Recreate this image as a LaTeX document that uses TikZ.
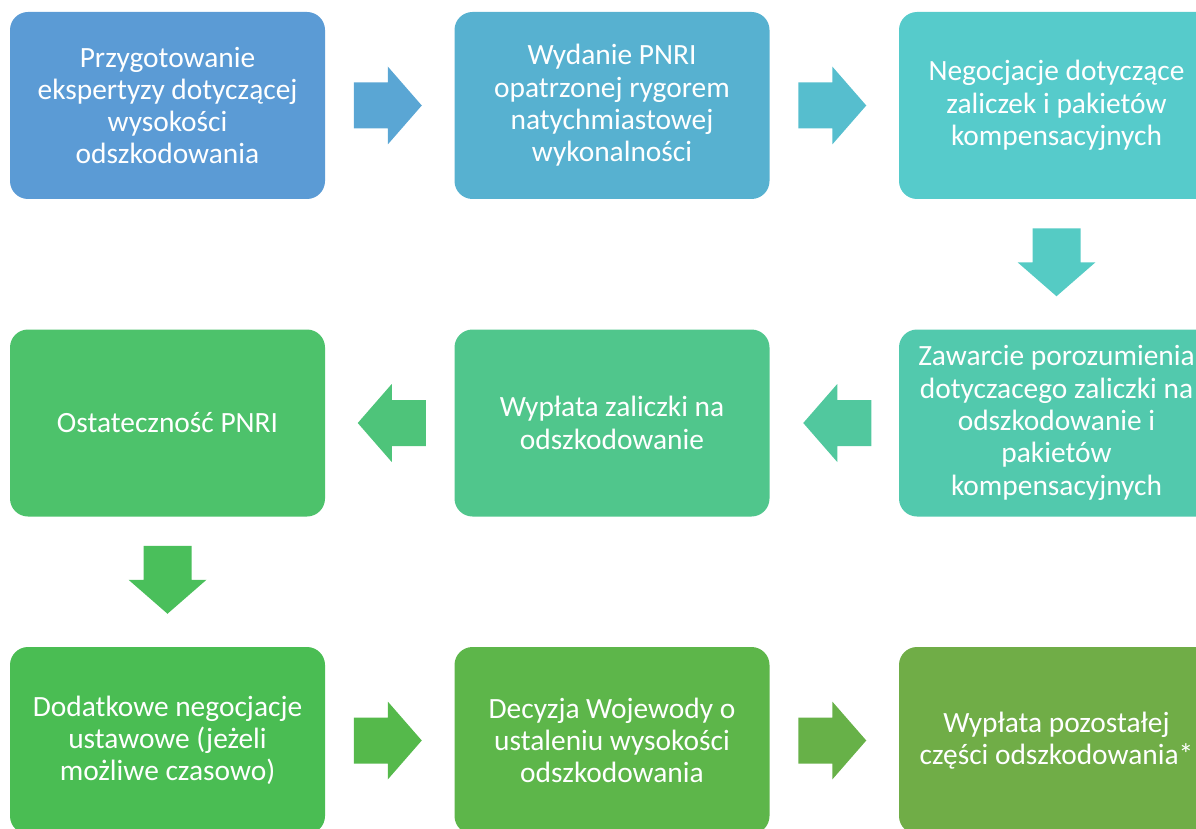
\documentclass[tikz,border=0pt]{standalone}
\usepackage{fontspec}
\setmainfont{Carlito}
\usetikzlibrary{calc}
\definecolor{cA}{HTML}{5B9BD5}
\definecolor{aA}{HTML}{5AA6D4}
\definecolor{cB}{HTML}{57B1D0}
\definecolor{aB}{HTML}{56BECE}
\definecolor{cC}{HTML}{56CBCB}
\definecolor{aC}{HTML}{55CBC4}
\definecolor{cF}{HTML}{52C9AD}
\definecolor{aD}{HTML}{51C89E}
\definecolor{cE}{HTML}{50C68C}
\definecolor{aE}{HTML}{4EC47A}
\definecolor{cD}{HTML}{4DC26B}
\definecolor{aF}{HTML}{4ABF5B}
\definecolor{cG}{HTML}{4ABD53}
\definecolor{aG}{HTML}{55B94B}
\definecolor{cH}{HTML}{5DB64A}
\definecolor{aH}{HTML}{67B148}
\definecolor{cI}{HTML}{70AD47}
\tikzset{
  stepbox/.style={rectangle, rounded corners=18pt, minimum width=315pt, minimum height=187pt,
    inner sep=0pt, align=center, text=white, font=\fontsize{29.4}{32.3}\selectfont},
  rarr/.pic={\fill[pic actions] (-34,-23) -- (0,-23) -- (0,-39) -- (34,0) -- (0,39) -- (0,23) -- (-34,23) -- cycle;},
  larr/.pic={\fill[pic actions] (34,-23) -- (0,-23) -- (0,-39) -- (-34,0) -- (0,39) -- (0,23) -- (34,23) -- cycle;},
  darr/.pic={\fill[pic actions] (-24,-34) -- (24,-34) -- (24,0) -- (39,0) -- (0,34) -- (-39,0) -- (-24,0) -- cycle;},
}
\begin{document}
\begin{tikzpicture}[x=1pt,y=-1pt]
\useasboundingbox (0,0) rectangle (1196,829);
\clip (0,0) rectangle (1196,829);
% row 1
\node[stepbox, fill=cA] (b1) at (167.5,105.5) {Przygotowanie\\ekspertyzy dotyczącej\\wysokości\\odszkodowania};
\node[stepbox, fill=cB] (b2) at (612,105.5) {Wydanie PNRI\\opatrzonej rygorem\\natychmiastowej\\wykonalności};
\node[stepbox, fill=cC] (b3) at (1056.5,105.5) {Negocjacje dotyczące\\zaliczek i pakietów\\kompensacyjnych};
% row 2
\node[stepbox, fill=cD] (b4) at (167.5,423) {Ostateczność PNRI};
\node[stepbox, fill=cE] (b5) at (612,423) {Wypłata zaliczki na\\odszkodowanie};
\node[stepbox, fill=cF] (b6) at (1056.5,423) {Zawarcie porozumienia\\dotyczacego zaliczki na\\odszkodowanie i\\pakietów\\kompensacyjnych};
% row 3
\node[stepbox, fill=cG] (b7) at (167.5,740.5) {Dodatkowe negocjacje\\ustawowe (jeżeli\\możliwe czasowo)};
\node[stepbox, fill=cH] (b8) at (612,740.5) {Decyzja Wojewody o\\ustaleniu wysokości\\odszkodowania};
\node[stepbox, fill=cI] (b9) at (1056.5,740.5) {Wypłata pozostałej\\części odszkodowania*};
% connectors (block arrows)
\pic[fill=aA] at ($(b1.east)!0.5!(b2.west)+(-2,0)$) {rarr};
\pic[fill=aB] at ($(b2.east)!0.5!(b3.west)+(-2,0)$) {rarr};
\pic[fill=aC] at ($(b3.south)!0.5!(b6.north)+(0,-2)$) {darr};
\pic[fill=aD] at ($(b6.west)!0.5!(b5.east)+(3,0)$) {larr};
\pic[fill=aE] at ($(b5.west)!0.5!(b4.east)+(2,0)$) {larr};
\pic[fill=aF] at ($(b4.south)!0.5!(b7.north)+(0,-2)$) {darr};
\pic[fill=aG] at ($(b7.east)!0.5!(b8.west)+(-2,0)$) {rarr};
\pic[fill=aH] at ($(b8.east)!0.5!(b9.west)+(-2,0)$) {rarr};
\end{tikzpicture}
\end{document}
